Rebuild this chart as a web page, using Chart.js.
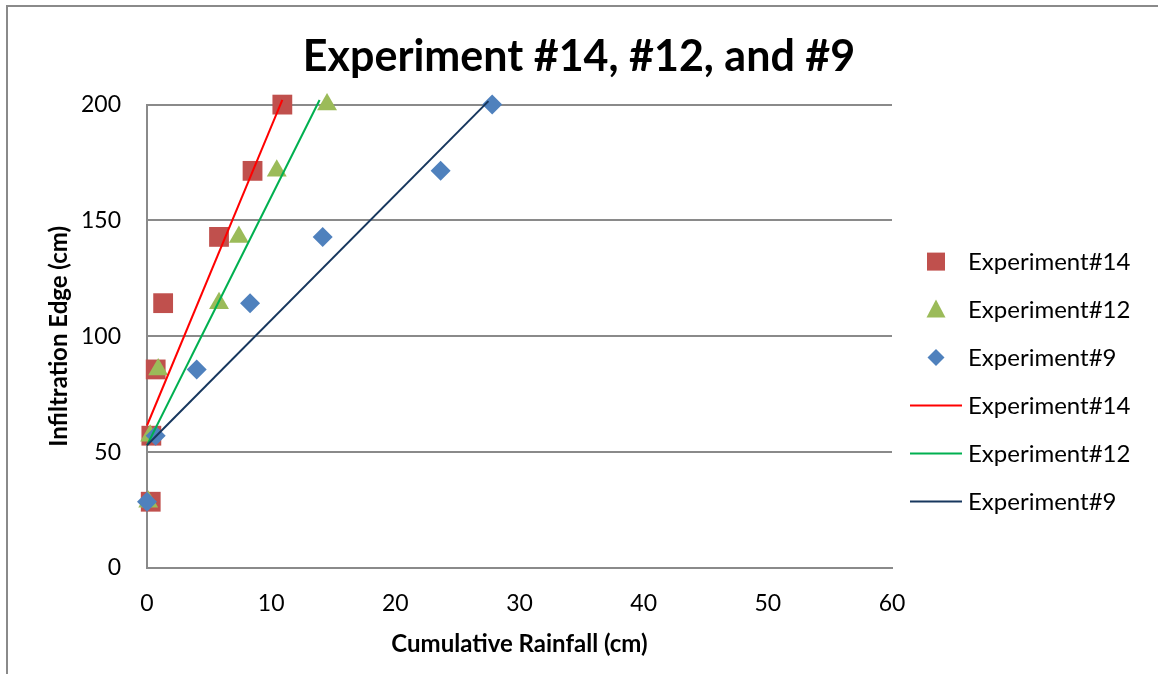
<!DOCTYPE html>
<html>
<head>
<meta charset="utf-8">
<script src="https://cdn.jsdelivr.net/npm/chart.js@4/dist/chart.umd.min.js"></script>
<style>
  body { margin: 0; background: #fff; }
  #wrap { position: relative; width: 1158px; height: 674px; overflow: hidden; }
  #frame { position: absolute; left: 6px; top: 5px; width: 1200px; height: 720px; border-top: 2px solid #8a8a8a; border-left: 2px solid #8a8a8a; }
  #chart { position: absolute; left: 0; top: 0; }
</style>
</head>
<body>
<div id="wrap">
  <div id="frame"></div>
  <canvas id="chart" width="1158" height="674"></canvas>
</div>
<script>
// infiltration edge positions (cm), same for all three experiments
const edge = [28.6, 57.1, 85.7, 114.3, 142.9, 171.4, 200];
// cumulative rainfall (cm) per experiment
const rain14 = [0.3, 0.35, 0.7, 1.3, 5.8, 8.5, 10.9];
const rain12 = [0.1, 0.25, 0.9, 5.8, 7.4, 10.45, 14.5];
const rain9 = [0.0, 0.7, 4.0, 8.3, 14.15, 23.65, 27.8];
// trend line end points [x0, y0, x1, y1]
const trend14 = [0, 61.5, 10.9, 202];
const trend12 = [0, 53, 13.9, 202];
const trend9 = [0, 53, 27.5, 201.5];

const yTicks = [0, 50, 100, 150, 200];
const xTicks = [0, 10, 20, 30, 40, 50, 60];

const FONT = 'Lato, "Open Sans", sans-serif';

const toPts = (xs) => xs.map((x, i) => ({ x: x, y: edge[i] }));
const toLine = (t) => [{ x: t[0], y: t[1] }, { x: t[2], y: t[3] }];

// legend drawn by hand so each marker keeps its own size
const sideLegend = {
    id: 'sideLegend',
    afterDraw(chart) {
        const ctx = chart.ctx;
        const area = chart.chartArea;
        const mx = area.right + 44; // marker centre
        const tx = area.right + 76; // text start
        ctx.save();
        ctx.font = '24px ' + FONT;
        ctx.textBaseline = 'middle';
        chart.data.datasets.forEach((ds, i) => {
            const y = area.top + 157 + i * 48;
            ctx.fillStyle = ds.backgroundColor;
            ctx.strokeStyle = ds.borderColor;
            if (ds.showLine) {
                ctx.lineWidth = 2;
                ctx.beginPath();
                ctx.moveTo(mx - 26, y);
                ctx.lineTo(mx + 26, y);
                ctx.stroke();
            } else if (ds.pointStyle === 'rect') {
                ctx.fillRect(mx - 9, y - 9, 18, 18);
            } else if (ds.pointStyle === 'triangle') {
                ctx.beginPath();
                ctx.moveTo(mx, y - 10);
                ctx.lineTo(mx + 9.5, y + 8);
                ctx.lineTo(mx - 9.5, y + 8);
                ctx.closePath();
                ctx.fill();
            } else {
                ctx.beginPath();
                ctx.moveTo(mx, y - 8.5);
                ctx.lineTo(mx + 8.5, y);
                ctx.lineTo(mx, y + 8.5);
                ctx.lineTo(mx - 8.5, y);
                ctx.closePath();
                ctx.fill();
            }
            ctx.fillStyle = '#000';
            ctx.fillText(ds.label, tx, y + 1);
        });
        ctx.restore();
    }
};

new Chart(document.getElementById('chart'), {
    type: 'scatter',
    data: {
        datasets: [
            { label: 'Experiment#14', data: toPts(rain14), pointStyle: 'rect', pointRadius: 14, pointHoverRadius: 14,
              backgroundColor: '#C0504D', borderColor: '#C0504D', borderWidth: 0, order: 6, clip: false },
            { label: 'Experiment#12', data: toPts(rain12), pointStyle: 'triangle', pointRadius: 11.5, pointHoverRadius: 11.5,
              backgroundColor: '#9BBB59', borderColor: '#9BBB59', borderWidth: 0, order: 5, clip: false },
            { label: 'Experiment#9', data: toPts(rain9), pointStyle: 'rectRot', pointRadius: 10, pointHoverRadius: 10,
              backgroundColor: '#4F81BD', borderColor: '#4F81BD', borderWidth: 0, order: 4, clip: false },
            { label: 'Experiment#14', data: toLine(trend14), showLine: true, pointRadius: 0,
              borderColor: '#FF0000', backgroundColor: '#FF0000', borderWidth: 2, order: 3, clip: false },
            { label: 'Experiment#12', data: toLine(trend12), showLine: true, pointRadius: 0,
              borderColor: '#00B050', backgroundColor: '#00B050', borderWidth: 2, order: 2, clip: false },
            { label: 'Experiment#9', data: toLine(trend9), showLine: true, pointRadius: 0,
              borderColor: '#17375E', backgroundColor: '#17375E', borderWidth: 2, order: 1, clip: false }
        ]
    },
    options: {
        responsive: false,
        animation: false,
        layout: { padding: 0 },
        plugins: {
            legend: { display: false },
            tooltip: { enabled: false },
            title: {
                display: true,
                text: 'Experiment #14, #12, and #9',
                color: '#000',
                font: { family: FONT, size: 43, weight: 'bold' },
                padding: { top: 31, bottom: 22 }
            }
        },
        scales: {
            x: {
                type: 'linear',
                min: 0, max: 60,
                afterBuildTicks: (s) => { s.ticks = xTicks.map(v => ({ value: v })); },
                afterFit: (s) => { s.height = 106; },
                grid: { display: false, drawTicks: false },
                border: { display: true, color: '#8a8a8a', width: 2 },
                ticks: { color: '#000', padding: 22, font: { family: FONT, size: 23 } },
                title: {
                    display: true,
                    text: 'Cumulative Rainfall (cm)',
                    color: '#000',
                    font: { family: FONT, size: 24, weight: 'bold' },
                    padding: { top: 0, bottom: 15 }
                }
            },
            y: {
                min: 0, max: 200,
                afterBuildTicks: (s) => { s.ticks = yTicks.map(v => ({ value: v })); },
                afterFit: (s) => { s.width = 147; },
                grid: { color: '#8a8a8a', lineWidth: 2, drawTicks: false },
                border: { display: true, color: '#8a8a8a', width: 2 },
                ticks: { color: '#000', padding: 26, font: { family: FONT, size: 23 } },
                title: {
                    display: true,
                    text: 'Infiltration Edge (cm)',
                    color: '#000',
                    font: { family: FONT, size: 24, weight: 'bold' },
                    padding: { top: 45, bottom: 0 }
                }
            },
            // empty spacer axis that reserves room for the legend on the right
            spacer: {
                type: 'linear',
                position: 'right',
                afterFit: (s) => { s.width = 266; },
                grid: { display: false, drawTicks: false },
                border: { display: false },
                ticks: { display: false }
            }
        }
    },
    plugins: [sideLegend]
});
</script>
</body>
</html>
